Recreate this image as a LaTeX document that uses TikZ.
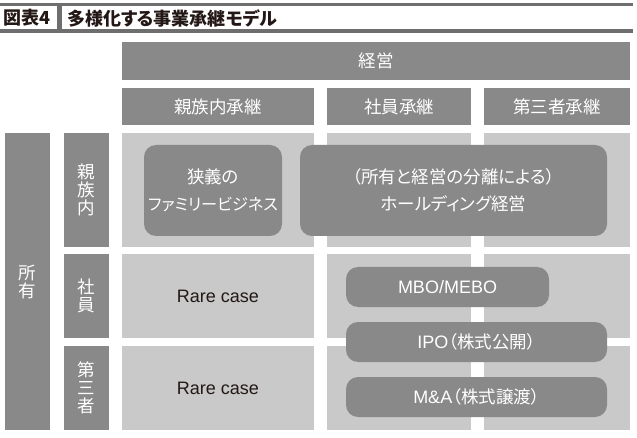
\documentclass[tikz,border=0pt]{standalone}
\usepackage{fontspec}
\setmainfont[RawFeature=+palt]{Noto Sans CJK JP}
\newfontfamily\latinfont{Liberation Sans}
\definecolor{hdgray}{HTML}{898989}
\definecolor{cellgray}{HTML}{C9C9C9}
\definecolor{rulegray}{HTML}{6E6E6E}
\definecolor{inkblack}{HTML}{231815}

\begin{document}
\begin{tikzpicture}[
  x=1pt, y=-1pt,
  box/.style     = {anchor=north west, inner sep=0pt, outer sep=0pt, align=center},
  head/.style    = {box, fill=hdgray, text=white,
                    font=\fontsize{17.5}{20}\selectfont},
  side/.style    = {box, fill=hdgray, text=white,
                    font=\fontsize{17.5}{18}\selectfont},
  cell/.style    = {box, fill=cellgray, text=inkblack,
                    font=\fontsize{18}{20}\latinfont},
  pill/.style    = {box, fill=hdgray, text=white, rounded corners=12pt,
                    font=\fontsize{17.5}{27}\selectfont},
  ttl/.style     = {anchor=west, inner sep=0pt, text=inkblack,
                    font=\fontsize{18}{20}\bfseries},
]
\useasboundingbox (0,0) rectangle (637,438);

% ── Title bar ────────────────────────────────────────────────
\fill[rulegray] (0,3) rectangle (633,6.5);
\fill[rulegray] (0,29.5) rectangle (633,33);
\fill[rulegray] (57,6.5) rectangle (61.5,29.5);
\node[ttl] (fignum) at (3,18)  {図表4};
\node[ttl] (title)  at (67,18) {多様化する事業承継モデル};

% ── Column heads ─────────────────────────────────────────────
\node[head, minimum width=508pt, minimum height=38pt] (keiei) at (122,42) {経営};
\node[head, minimum width=192pt, minimum height=37pt] (hFam) at (122,88) {親族内承継};
\node[head, minimum width=144pt, minimum height=37pt] (hEmp) at (327,88) {社員承継};
\node[head, minimum width=146pt, minimum height=37pt] (hThd) at (484,88) {第三者承継};

% ── Row heads ────────────────────────────────────────────────
\node[side, minimum width=45pt, minimum height=297pt] (shoyu) at (5,133) {所\\有};
\node[side, minimum width=45pt, minimum height=114pt] (rFam) at (64,133) {親\\族\\内};
\node[side, minimum width=45pt, minimum height=84pt]  (rEmp) at (64,254) {社\\員};
\node[side, minimum width=45pt, minimum height=84pt]  (rThd) at (64,346) {第\\三\\者};

% ── Cells ────────────────────────────────────────────────────
\node[cell, minimum width=192pt, minimum height=114pt] (c11) at (122,133) {};
\node[cell, minimum width=144pt, minimum height=114pt] (c12) at (327,133) {};
\node[cell, minimum width=146pt, minimum height=114pt] (c13) at (484,133) {};
\node[cell, minimum width=192pt, minimum height=84pt]  (c21) at (122,254) {Rare case};
\node[cell, minimum width=144pt, minimum height=84pt]  (c22) at (327,254) {};
\node[cell, minimum width=146pt, minimum height=84pt]  (c23) at (484,254) {};
\node[cell, minimum width=192pt, minimum height=84pt]  (c31) at (122,346) {Rare case};
\node[cell, minimum width=144pt, minimum height=84pt]  (c32) at (327,346) {};
\node[cell, minimum width=146pt, minimum height=84pt]  (c33) at (484,346) {};

% ── Rounded boxes ────────────────────────────────────────────
\node[pill, minimum width=138pt, minimum height=91pt] (narrow) at (144,145)
  {狭義の\\{\fontsize{16.2}{27}\selectfont ファミリービジネス}};
\node[pill, minimum width=307pt, minimum height=91pt] (holding) at (300,145)
  {（所有と経営の分離による）\\ホールディング経営};
\node[pill, minimum width=203pt, minimum height=40pt] (mbo) at (346,267)
  {{\latinfont\fontsize{18}{20}\selectfont MBO/MEBO}};
\node[pill, minimum width=261pt, minimum height=40pt] (ipo) at (346,322)
  {{\latinfont\fontsize{18}{20}\selectfont IPO}（株式公開）};
\node[pill, minimum width=261pt, minimum height=40pt] (mna) at (346,377)
  {{\latinfont\fontsize{18}{20}\selectfont M\&A}（株式譲渡）};

\end{tikzpicture}
\end{document}
